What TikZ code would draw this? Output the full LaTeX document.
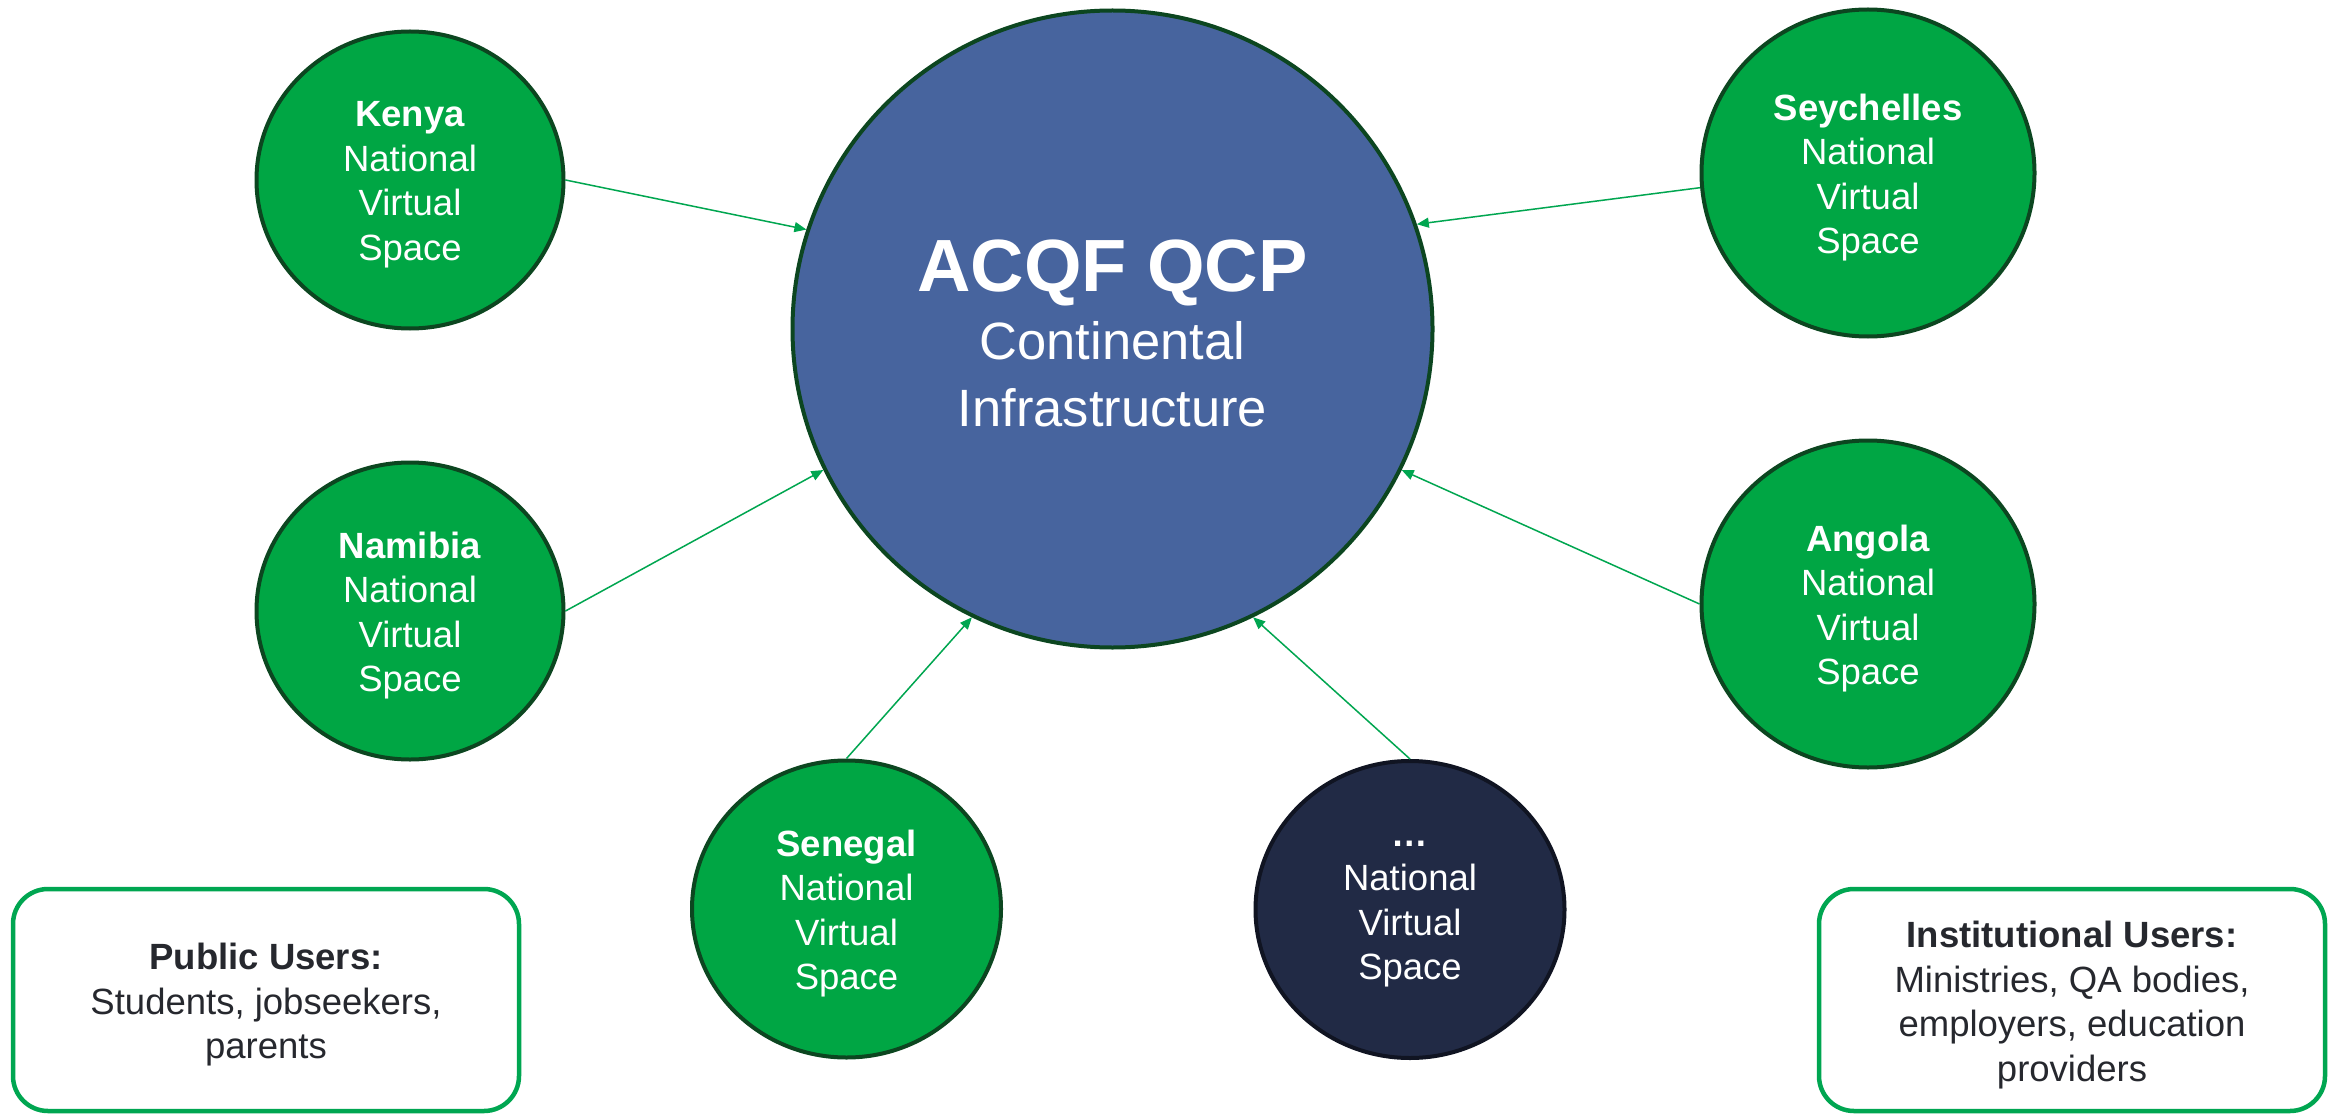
\documentclass[tikz,border=0pt]{standalone}
\usepackage{fontspec}
\setmainfont{Liberation Sans}
\usetikzlibrary{arrows.meta,shapes.geometric}
\definecolor{cgreen}{RGB}{0,166,68}
\definecolor{cborder}{RGB}{12,70,32}
\definecolor{cblue}{RGB}{71,100,158}
\definecolor{cnavy}{RGB}{33,42,69}
\definecolor{cnavyb}{RGB}{16,20,34}
\definecolor{carrow}{RGB}{0,166,80}
\definecolor{cbox}{RGB}{0,166,81}
\definecolor{ctext}{RGB}{38,40,46}
\begin{document}
\begin{tikzpicture}[x=1pt,y=-1pt,
  country/.style={ellipse, draw=cborder, line width=4pt, fill=cgreen,
    minimum width=307pt, minimum height=297pt, inner sep=0pt},
  bigcountry/.style={country, minimum width=333pt, minimum height=327pt},
  othercountry/.style={country, draw=cnavyb, fill=cnavy},
  ctxt/.style={text=white, align=center, inner sep=0pt,
    font=\fontsize{36.5}{44.5}\selectfont},
  btxt/.style={text=ctext, align=center, inner sep=0pt,
    font=\fontsize{36.5}{44.5}\selectfont},
  link/.style={draw=carrow, line width=1.5pt, -{Triangle[length=12pt,width=10pt]}},
  userbox/.style={draw=cbox, line width=4.5pt, rounded corners=35pt,
    minimum width=506pt, minimum height=222pt, fill=white, inner sep=0pt}
]
\useasboundingbox[fill=white] (0,0) rectangle (2336,1115);

% central node
\node[ellipse, draw=cborder, line width=4pt, fill=cblue,
  minimum width=640pt, minimum height=637pt, inner sep=0pt] (qcp) at (1112.5,329) {};
\node[text=white, align=center, inner sep=0pt,
  font=\fontsize{52.5}{66.7}\selectfont] (qcpt) at ([yshift=-4.5pt]qcp.center)
  {{\bfseries\fontsize{74}{68}\selectfont ACQF QCP}\\[1.6pt]Continental\\Infrastructure};

% country nodes
\node[country] (kenya) at (410,180) {};
\node[country] (namibia) at (410,611) {};
\node[country, minimum width=309pt] (senegal) at (846.5,909) {};
\node[othercountry, minimum width=309pt] (dots) at (1410,909.5) {};
\node[bigcountry] (seychelles) at (1868,173) {};
\node[bigcountry] (angola) at (1868,604) {};

\node[ctxt] (kenyat) at ([yshift=-4.5pt]kenya.center) {\textbf{Kenya}\\National\\Virtual\\Space};
\node[ctxt] (namibiat) at ([yshift=-4.5pt]namibia.center) {\textbf{Namibia}\\National\\Virtual\\Space};
\node[ctxt] (senegalt) at ([yshift=-4.5pt]senegal.center) {\textbf{Senegal}\\National\\Virtual\\Space};
\node[ctxt] (dotst) at ([yshift=-4.5pt]dots.center) {\textbf{…}\\National\\Virtual\\Space};
\node[ctxt] (seychellest) at ([yshift=-4.5pt]seychelles.center) {\textbf{Seychelles}\\National\\Virtual\\Space};
\node[ctxt] (angolat) at ([yshift=-4.5pt]angola.center) {\textbf{Angola}\\National\\Virtual\\Space};

% connectors
\draw[link] (kenya.east) -- (qcp.162.2);
\draw[link] (namibia.east) -- (qcp.206.1);
\draw[link] (senegal.north) -- (qcp.244.3);
\draw[link] (dots.north) -- (qcp.296.3);
\draw[link] (angola.west) -- (qcp.334.6);
\draw[link] (seychelles.185) -- (qcp.19.8);

% user boxes
\node[userbox] (public) at (266,1000) {};
\node[btxt] (publict) at ([yshift=-5pt]public.center) {\textbf{Public Users:}\\Students, jobseekers,\\parents};
\node[userbox] (inst) at (2072,1000) {};
\node[btxt] (instt) at ([yshift=-5pt]inst.center) {\textbf{Institutional Users:}\\Ministries, QA bodies,\\employers, education\\providers};
\end{tikzpicture}
\end{document}
